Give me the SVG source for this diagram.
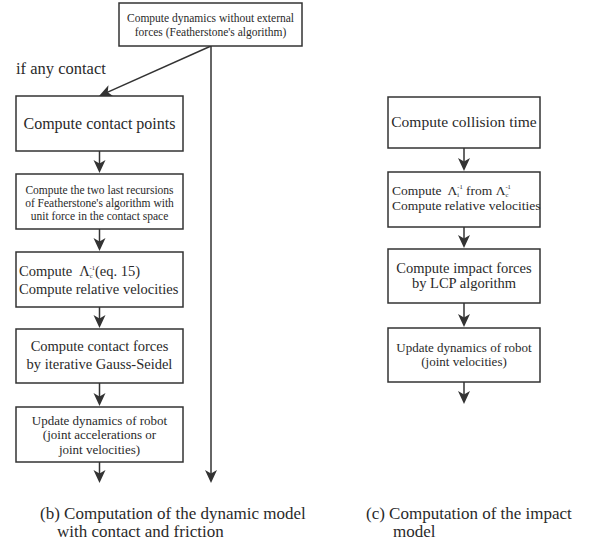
<svg xmlns="http://www.w3.org/2000/svg" width="596" height="543" viewBox="0 0 596 543">
<style>
.box{fill:#fff;stroke:#333;stroke-width:1.5}
.t{font-family:"Liberation Serif","Times New Roman",serif;fill:#2a2a2a}
.c{text-anchor:middle}
.conn line{stroke:#333;stroke-width:1.5;marker-end:url(#ah)}
.sm{font-size:6.5px}
</style>
<defs>
<marker id="ah" viewBox="-15 -7 16 14" refX="-4" refY="0" markerWidth="16" markerHeight="14" markerUnits="userSpaceOnUse" orient="auto">
<path d="M0,0 L-13,-6 L-9.5,0 L-13,6 z" fill="#333"/>
</marker>
</defs>
<rect width="596" height="543" fill="#fff"/>

<g id="connectors" class="conn">
<line x1="211" y1="46" x2="102.7" y2="94.4"/>
<line x1="211" y1="46" x2="211" y2="479"/>
<line x1="99.5" y1="151" x2="99.5" y2="169"/>
<line x1="99.5" y1="229" x2="99.5" y2="247"/>
<line x1="99.5" y1="307" x2="99.5" y2="324"/>
<line x1="99.5" y1="383" x2="99.5" y2="402"/>
<line x1="99.5" y1="462" x2="99.5" y2="479"/>
<line x1="464" y1="148" x2="464" y2="167"/>
<line x1="464" y1="227" x2="464" y2="244"/>
<line x1="464" y1="303" x2="464" y2="323"/>
<line x1="464" y1="382" x2="464" y2="400"/>
</g>

<g id="n_top">
<rect class="box" x="119" y="3" width="183" height="43"/>
<text class="t c" font-size="11.5" x="210.5" y="21.5">Compute dynamics without external</text>
<text class="t c" font-size="11.5" x="210.5" y="35.5">forces (Featherstone's algorithm)</text>
</g>

<g id="lbl_contact">
<text class="t" font-size="16.5" x="16" y="74">if any contact</text>
</g>

<g id="n_contact_points">
<rect class="box" x="16" y="96" width="167" height="55"/>
<text class="t c" font-size="16" x="99.5" y="129">Compute contact points</text>
</g>

<g id="n_recursions">
<rect class="box" x="16" y="174" width="167" height="55"/>
<text class="t c" font-size="11.5" x="99.5" y="193.5">Compute the two last recursions</text>
<text class="t c" font-size="11.5" x="99.5" y="206.5">of Featherstone's algorithm with</text>
<text class="t c" font-size="11.5" x="99.5" y="219.5">unit force in the contact space</text>
</g>

<g id="n_lambda_c">
<rect class="box" x="16" y="252" width="167" height="55"/>
<text class="t" font-size="14.5" x="19" y="276">Compute<tspan dx="7">Λ</tspan><tspan class="sm" dy="2">c</tspan><tspan class="sm" dx="-3" dy="-8">-1</tspan><tspan dy="6">(eq. 15)</tspan></text>
<text class="t" font-size="14.5" x="19" y="294">Compute relative velocities</text>
</g>

<g id="n_gauss">
<rect class="box" x="16" y="329" width="167" height="54"/>
<text class="t c" font-size="14.5" x="99.5" y="351">Compute contact forces</text>
<text class="t c" font-size="14.5" x="99.5" y="369">by iterative Gauss-Seidel</text>
</g>

<g id="n_update_b">
<rect class="box" x="16" y="407" width="167" height="55"/>
<text class="t c" font-size="13" x="99.5" y="425">Update dynamics of robot</text>
<text class="t c" font-size="13" x="99.5" y="439">(joint accelerations or</text>
<text class="t c" font-size="13" x="99.5" y="454">joint velocities)</text>
</g>

<g id="n_collision">
<rect class="box" x="388" y="97" width="152" height="51"/>
<text class="t c" font-size="15.5" x="464" y="127">Compute collision time</text>
</g>

<g id="n_lambda_i">
<rect class="box" x="388" y="172" width="152" height="55"/>
<text class="t" font-size="13.5" x="392" y="195">Compute<tspan dx="6">Λ</tspan><tspan class="sm" dy="2">i</tspan><tspan class="sm" dx="-1.8" dy="-8">-1</tspan><tspan dy="6"> from Λ</tspan><tspan class="sm" dy="2">c</tspan><tspan class="sm" dx="-3" dy="-8">-1</tspan></text>
<text class="t" font-size="13.5" x="392" y="210">Compute relative velocities</text>
</g>

<g id="n_lcp">
<rect class="box" x="388" y="249" width="152" height="54"/>
<text class="t c" font-size="14.5" x="464" y="273">Compute impact forces</text>
<text class="t c" font-size="14.5" x="464" y="288">by LCP algorithm</text>
</g>

<g id="n_update_c">
<rect class="box" x="388" y="328" width="152" height="54"/>
<text class="t c" font-size="13" x="464" y="352">Update dynamics of robot</text>
<text class="t c" font-size="13" x="464" y="366">(joint velocities)</text>
</g>

<g id="captions">
<text class="t" font-size="17" x="40" y="519">(b) Computation of the dynamic model</text>
<text class="t" font-size="17" x="57" y="537">with contact and friction</text>
<text class="t" font-size="17" x="366" y="519">(c) Computation of the impact</text>
<text class="t" font-size="17" x="393" y="537">model</text>
</g>
</svg>
